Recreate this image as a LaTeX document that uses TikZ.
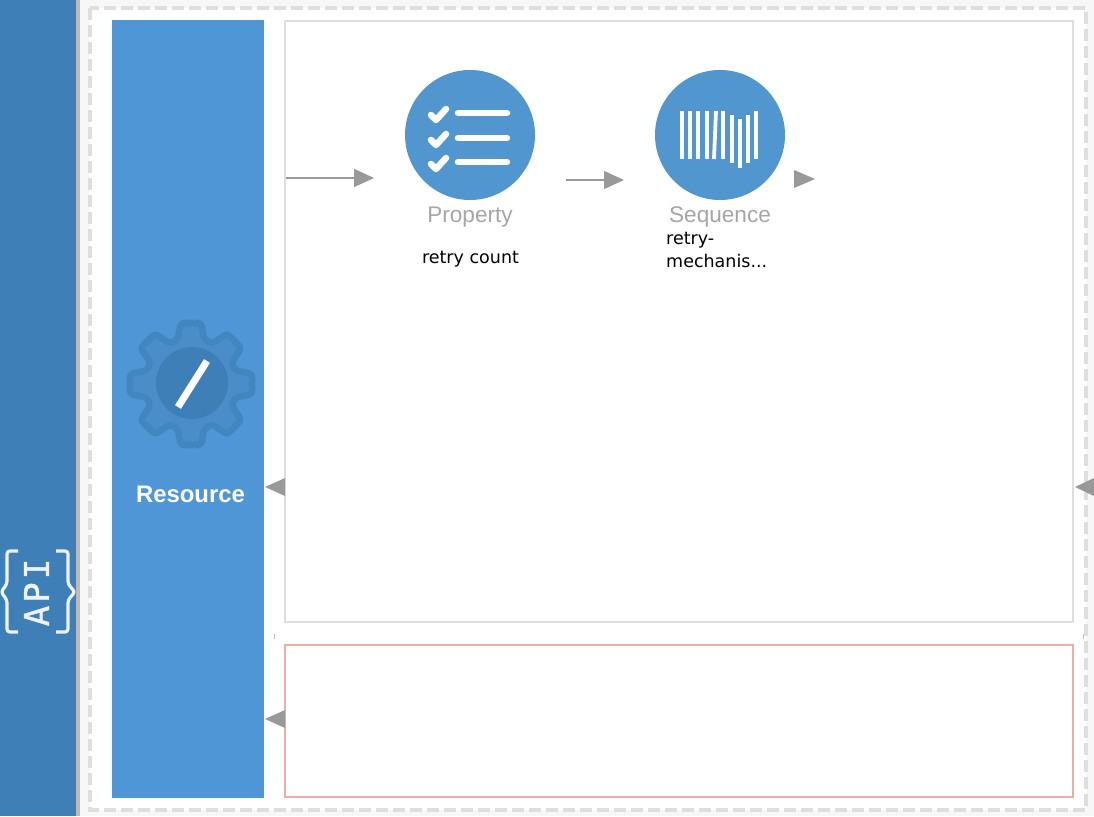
\documentclass[tikz,border=0pt]{standalone}
\usepackage{fontspec}
\setmainfont{Liberation Sans}
\newfontfamily\apifont[FakeBold=1.2,LetterSpace=9]{DejaVu Sans Mono}
\newfontfamily\capfont{DejaVu Sans}
\usetikzlibrary{arrows.meta}
\definecolor{band}{HTML}{3F7FB8}
\definecolor{res}{HTML}{4F96D6}
\definecolor{cir}{HTML}{5296CF}
\definecolor{gearfill}{HTML}{4A8DC9}
\definecolor{gearline}{HTML}{4286C0}
\definecolor{boxline}{HTML}{DEDEDE}
\definecolor{redline}{HTML}{E9AFA8}
\definecolor{tipgrey}{HTML}{999999}
\tikzset{
  x=1pt,y=-1pt,
  boxn/.style={rectangle,draw,line width=2pt,inner sep=0pt,anchor=north west},
  mediator/.style={circle,fill=cir,minimum size=130pt,inner sep=0pt},
  kind/.style={text=black!35,font=\fontsize{22.6}{24}\selectfont,inner sep=0pt,anchor=base},
  caption/.style={text=black,font=\capfont\fontsize{17.5}{23}\selectfont,inner sep=0pt,align=left},
  conn/.style={draw=black!40,line width=1.3pt,-{Triangle[length=20pt,width=18pt,color=tipgrey,fill=tipgrey]}},
  tiponly/.style={fill=tipgrey,draw=none},
  iconline/.style={draw=white,line cap=round,line width=6.5pt},
  checkline/.style={draw=white,line cap=round,line join=round,line width=6.5pt},
  bar/.style={draw=white,line width=3.8pt},
  bracey/.style={draw=white!90!band,line width=3.2pt,rounded corners=3pt}
}
\begin{document}
\begin{tikzpicture}
\useasboundingbox (0,0) rectangle (1094,816);
\fill[white!97!black] (0,0) rectangle (1094,816);
\fill[white] (90,8) rectangle (1086,810);
\fill[band] (0,0) rectangle (76,816);
\fill[black!27] (76,0) rectangle (80,816);
\draw[boxline,line width=4pt,dash pattern=on 12pt off 5pt] (90,8) rectangle (1086,810);

\node[rectangle,fill=res,anchor=north west,inner sep=0pt,minimum width=152pt,minimum height=778pt] (resource) at (112,20) {};
\node[boxn,draw=boxline,minimum width=788pt,minimum height=601pt] (flow) at (283.5,20) {};
\node[boxn,draw=redline,minimum width=788pt,minimum height=152pt] (fault) at (283.5,643.5) {};

% API
\node[rotate=90,text=white!90!band,inner sep=0pt,font=\apifont\fontsize{34}{34}\selectfont] (api) at (36.5,592.5) {API};
\draw[bracey] (18,551) -- (7,551) -- (7,584) -- (1,592) -- (7,600) -- (7,632) -- (18,632);
\draw[bracey] (56,551) -- (68,551) -- (68,584) -- (75,592) -- (68,600) -- (68,632) -- (56,632);

% gear
\begin{scope}[shift={(191,384)}]
\draw[fill=gearfill,draw=gearline,line width=6.5pt,rounded corners=3.5pt,line join=round]
  (22.5:46) \foreach \a in {45,90,...,360}{ -- (\a-17:46) -- (\a-9.5:62) -- (\a+9.5:62) -- (\a+17:46)} -- cycle;
\fill[band] (1,-1) circle[radius=36];
\end{scope}
\coordinate (slasha) at (178,407);
\coordinate (slashb) at (207,361);
\draw[white,line width=7pt] (slasha) -- (slashb);
\node[text=white,font=\bfseries\fontsize{23.9}{26}\selectfont,inner sep=0pt] (reslabel) at (190.5,494) {Resource};

% property
\node[mediator] (property) at (470,135) {};
\foreach \y in {113,138,162}{
  \draw[iconline] (458,\y) -- (507,\y);
}
\foreach \d in {0,25,49}{
  \draw[checkline] (431,115+\d) -- (436,120+\d) -- (446,109+\d);
}
\node[kind] (plabel) at (470,222) {Property};
\node[caption] (pcap) at (470.5,259) {retry count};

% sequence
\node[mediator] (sequence) at (720,135) {};
\foreach \x/\t/\b in {682/111/159,690/111/159,698.3/111/159,706.7/111/159,723.3/111/159,731.7/115/163,740/119/168,748.3/115/163,756/111/159}{
  \draw[bar] (\x,\t) -- (\x,\b);
}
\draw[bar] (716,111) -- (714,159);
\node[kind] (slabel) at (720,222) {Sequence};
\node[caption,anchor=north west] (scap) at (666,232) {retry-\\mechanis...};

% connectors
\coordinate (a1s) at (286,178);
\coordinate (a1e) at (374,178);
\coordinate (a2s) at (566,180);
\coordinate (a2e) at (624,180);
\draw[conn] (a1s) -- (a1e);
\draw[conn] (a2s) -- (a2e);

% lone arrow heads
\fill[tiponly] (794,170) -- (815,179) -- (794,188) -- cycle;
\fill[tiponly] (285,478) -- (265,487) -- (285,496) -- cycle;
\fill[tiponly] (1094,478) -- (1075,487) -- (1094,496) -- cycle;
\fill[tiponly] (285,710) -- (265,719) -- (285,728) -- cycle;

% specks
\draw[black!25,line width=.7pt] (274.5,634) -- (274.5,639);
\draw[black!25,line width=.7pt] (1083.5,634) -- (1083.5,639);
\end{tikzpicture}
\end{document}
